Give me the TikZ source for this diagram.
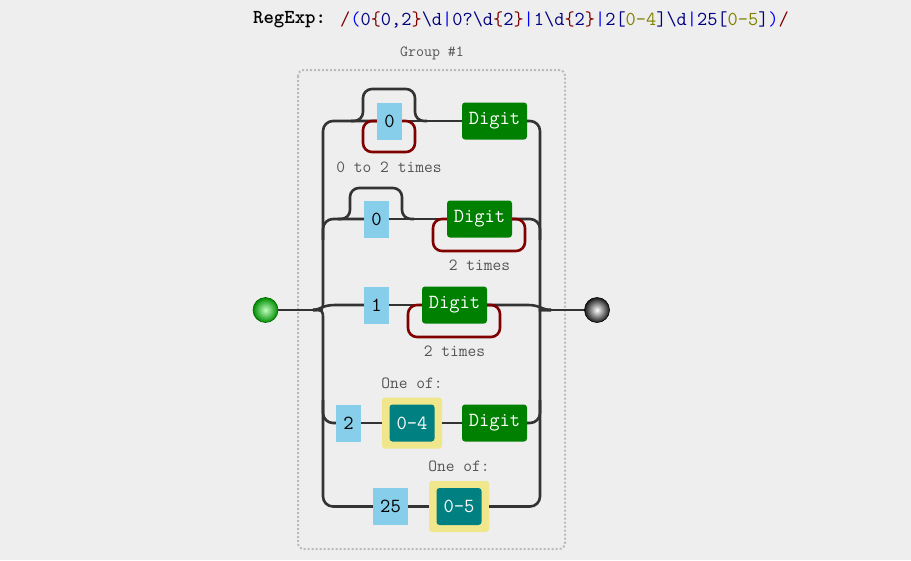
\documentclass[tikz,border=0pt]{standalone}
\usetikzlibrary{positioning}

\definecolor{rxbg}{HTML}{EEEEEE}
\definecolor{rxline}{HTML}{333333}
\definecolor{rxsky}{HTML}{87CEEB}
\definecolor{rxgreen}{HTML}{008000}
\definecolor{rxteal}{HTML}{008080}
\definecolor{rxkhaki}{HTML}{F0E68C}
\definecolor{rxmaroon}{HTML}{800000}
\definecolor{rxblue}{HTML}{0000FF}
\definecolor{rxnavy}{HTML}{000080}
\definecolor{rxolive}{HTML}{808000}
\definecolor{rxtext}{HTML}{555555}
\definecolor{rxgroup}{HTML}{BBBBBB}

\newcommand\rxbox{\ttfamily\fontsize{20}{20}\selectfont}
\newcommand\rxnote{\ttfamily\fontsize{17}{17}\selectfont}
\newcommand\rxtitle{\ttfamily\fontsize{19.8}{20}\selectfont}
\newcommand\reM[1]{\textcolor{rxmaroon}{#1}}
\newcommand\reB[1]{\textcolor{rxblue}{#1}}
\newcommand\reN[1]{\textcolor{rxnavy}{#1}}
\newcommand\reO[1]{\textcolor{rxolive}{#1}}

\tikzset{
	rail/.style={draw=rxline,line width=2.6pt},
	loopback/.style={draw=rxmaroon,line width=2.6pt,rounded corners=9pt},
	literal/.style={fill=rxsky,minimum width=25pt,minimum height=37pt,inner sep=0pt,font=\rxbox},
	escape/.style={fill=rxgreen,text=white,rounded corners=3pt,minimum width=65pt,minimum height=37pt,inner sep=0pt,font=\rxbox},
	charset/.style={fill=rxkhaki,rounded corners=3pt,minimum width=60pt,minimum height=51pt,inner sep=0pt},
	rangebox/.style={fill=rxteal,text=white,rounded corners=3pt,minimum width=45pt,minimum height=37pt,inner sep=0pt,font=\rxbox},
	note/.style={text=rxtext,font=\rxnote,inner sep=0pt},
	terminal/.style={circle,minimum size=25pt,inner sep=0pt,shading=radial},
}

\begin{document}
\begin{tikzpicture}[x=1pt,y=-1pt]

	\fill[rxbg] (0,0) rectangle (911,560);

	\node[anchor=west,inner sep=0pt] (re_label) at (253,20) {\rxtitle\bfseries RegExp:};
	\node[anchor=west,inner sep=0pt] (re_text) at (340,20) {\rxtitle\reM{/}\reB{(}\reN{0}\reM{\{}\reN{0,2}\reM{\}}\reN{\textbackslash d}\reB{|}\reN{0?\textbackslash d}\reM{\{}\reN{2}\reM{\}}\reB{|}\reN{1\textbackslash d}\reM{\{}\reN{2}\reM{\}}\reB{|}\reN{2[}\reO{0-4}\reN{]\textbackslash d}\reB{|}\reN{25[}\reO{0-5}\reN{]}\reB{)}\reM{/}};

	\draw[rxgroup,line width=2pt,dash pattern=on 2pt off 2pt,rounded corners=6pt] (298,70) rectangle (565,549);
	\node[text=rxtext,font=\ttfamily\fontsize{15.5}{16}\selectfont] (group) at (432,53) {Group \#1};

	\node[terminal,inner color=green!25,outer color=green!55!black,draw=green!40!black,line width=0.6pt] (start) at (265.5,310) {};
	\node[terminal,inner color=white,outer color=black!90,draw=black,line width=0.6pt] (finish) at (597,310) {};
	\coordinate (jl) at (313,310);
	\coordinate (jr) at (551,310);

	\node[literal] (lit0a) at (389.5,121) {0};
	\node[escape] (digitA) at (494.5,121) {Digit};
	\node[literal] (lit0b) at (376.5,219) {0};
	\node[escape] (digitB) at (479.5,219) {Digit};
	\node[literal] (lit1) at (376.5,305) {1};
	\node[escape] (digitC) at (454.5,305) {Digit};
	\node[literal] (lit2) at (348.5,423) {2};
	\node[charset] (set04) at (412,423) {};
	\node[rangebox] (range04) at (set04.center) {0-4};
	\node[escape] (digitD) at (494.5,423) {Digit};
	\node[literal,minimum width=35pt] (lit25) at (390.5,506.5) {25};
	\node[charset] (set05) at (459,506.5) {};
	\node[rangebox] (range05) at (set05.center) {0-5};

	\node[note] (times0a) at (389,167) {0 to 2 times};
	\node[note] (timesB) at (479.5,265) {2 times};
	\node[note] (timesC) at (454.5,351) {2 times};
	\node[note] (oneof04) at (412,383) {One of:};
	\node[note] (oneof05) at (459,466) {One of:};

	\draw[rail] (start) -- (jl);
	\draw[rail] (jr) -- (finish);
	\draw[rail] (jl) .. controls (323,310) .. (323,300) [rounded corners=10pt] |- (lit0a);
	\draw[rail] (jl) .. controls (323,310) .. (323,320) [rounded corners=10pt] |- (lit25);
	\draw[rail,rounded corners=10pt] (323,240) |- (lit0b);
	\draw[rail] (jl) .. controls (320,310) and (322,305) .. (335,305) -- (lit1);
	\draw[rail,rounded corners=10pt] (323,400) |- (lit2);

	\draw[rail,rounded corners=10pt] (digitA) -| (540,300) .. controls (540,310) .. (jr);
	\draw[rail,rounded corners=10pt] (set05) -| (540,320) .. controls (540,310) .. (jr);
	\draw[rail,rounded corners=10pt] (digitB) -| (540,240);
	\draw[rail] (digitC) -- (528,305) .. controls (540,305) and (542,310) .. (jr);
	\draw[rail,rounded corners=10pt] (digitD) -| (540,400);

	\draw[rail] (lit0a) -- (digitA);
	\draw[rail] (lit0b) -- (digitB);
	\draw[rail] (lit1) -- (digitC);
	\draw[rail] (lit2) -- (set04);
	\draw[rail] (set04) -- (digitD);
	\draw[rail] (lit25) -- (set05);

	\draw[rail,rounded corners=9pt] (351,121) -| (363,89) -| (415,121) -- (427,121);
	\draw[rail,rounded corners=9pt] (338,219) -| (350,188) -| (402,219) -- (414,219);

	\draw[loopback] (lit0a.west) -| (363,152) -| (415,121) -- (lit0a.east);
	\draw[loopback] (digitB.west) -| (433,251) -| (525,219) -- (digitB.east);
	\draw[loopback] (digitC.west) -| (408,337) -| (500,305) -- (digitC.east);

\end{tikzpicture}
\end{document}
